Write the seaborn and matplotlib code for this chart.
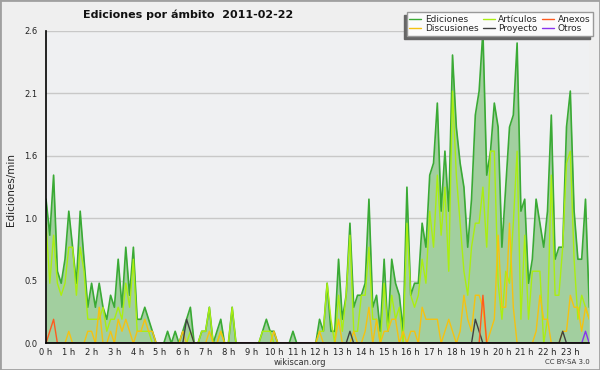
import matplotlib
matplotlib.use("Agg")
import matplotlib.pyplot as plt
from matplotlib.lines import Line2D
from matplotlib.patches import Rectangle
from matplotlib.ticker import FixedLocator, MultipleLocator
import numpy as np
import pandas as pd
import seaborn as sns

# --------------------------------------------------------------------------- #
# Data: edits per minute, one value per 10-minute slot (144 slots = 24 h)
# --------------------------------------------------------------------------- #

TITLE = "Ediciones por ámbito  2011-02-22"

ediciones = [
    1.2, 0.9, 1.4, 0.6, 0.5, 0.7, 1.1, 0.8, 0.5, 1.1, 0.7, 0.3,
    0.5, 0.3, 0.5, 0.3, 0.2, 0.4, 0.3, 0.7, 0.3, 0.8, 0.4, 0.8,
    0.2, 0.2, 0.3, 0.2, 0.1, 0.0, 0.0, 0.0, 0.1, 0.0, 0.1, 0.0,
    0.1, 0.2, 0.3, 0.0, 0.0, 0.1, 0.1, 0.3, 0.0, 0.1, 0.2, 0.0,
    0.0, 0.3, 0.0, 0.0, 0.0, 0.0, 0.0, 0.0, 0.0, 0.1, 0.2, 0.1,
    0.1, 0.0, 0.0, 0.0, 0.0, 0.1, 0.0, 0.0, 0.0, 0.0, 0.0, 0.0,
    0.2, 0.1, 0.5, 0.1, 0.1, 0.7, 0.2, 0.4, 1.0, 0.3, 0.4, 0.4,
    0.5, 1.2, 0.3, 0.4, 0.1, 0.7, 0.1, 0.7, 0.5, 0.4, 0.1, 1.3,
    0.4, 0.5, 0.5, 1.0, 0.8, 1.4, 1.5, 2.0, 1.1, 1.6, 1.1, 2.4,
    1.8, 1.5, 1.3, 0.8, 1.2, 1.9, 2.1, 2.6, 1.4, 1.6, 2.0, 1.8,
    0.8, 1.3, 1.8, 1.9, 2.5, 1.1, 1.2, 0.5, 0.7, 1.2, 1.0, 0.8,
    1.1, 1.9, 0.7, 0.8, 0.8, 1.8, 2.1, 1.1, 0.7, 0.7, 1.2, 0.3,
]

articulos = [
    1.0, 0.5, 0.9, 0.5, 0.4, 0.5, 0.8, 0.8, 0.4, 0.8, 0.6, 0.2,
    0.2, 0.2, 0.2, 0.3, 0.1, 0.2, 0.2, 0.3, 0.2, 0.5, 0.3, 0.7,
    0.1, 0.1, 0.1, 0.1, 0.0, 0.0, 0.0, 0.0, 0.0, 0.0, 0.0, 0.0,
    0.0, 0.0, 0.1, 0.0, 0.0, 0.1, 0.1, 0.3, 0.0, 0.0, 0.1, 0.0,
    0.0, 0.3, 0.0, 0.0, 0.0, 0.0, 0.0, 0.0, 0.0, 0.1, 0.1, 0.1,
    0.0, 0.0, 0.0, 0.0, 0.0, 0.0, 0.0, 0.0, 0.0, 0.0, 0.0, 0.0,
    0.1, 0.1, 0.5, 0.2, 0.0, 0.4, 0.1, 0.4, 0.9, 0.1, 0.1, 0.4,
    0.4, 0.8, 0.2, 0.2, 0.0, 0.5, 0.1, 0.4, 0.2, 0.3, 0.0, 1.0,
    0.4, 0.3, 0.4, 0.7, 0.5, 1.1, 0.8, 1.4, 0.9, 1.3, 0.6, 2.1,
    1.4, 1.0, 0.6, 0.4, 0.8, 1.0, 1.0, 1.3, 0.8, 1.6, 1.6, 0.5,
    0.2, 0.6, 0.5, 1.0, 1.6, 0.2, 0.9, 0.2, 0.6, 0.6, 0.6, 0.0,
    0.2, 1.4, 0.4, 0.4, 0.8, 1.5, 1.6, 0.7, 0.2, 0.4, 0.3, 0.2,
]

discusiones = [
    0.0, 0.0, 0.0, 0.0, 0.0, 0.0, 0.1, 0.0, 0.0, 0.0, 0.0, 0.1,
    0.1, 0.0, 0.3, 0.0, 0.0, 0.1, 0.0, 0.2, 0.1, 0.2, 0.1, 0.0,
    0.1, 0.1, 0.2, 0.1, 0.1, 0.0, 0.0, 0.0, 0.0, 0.0, 0.0, 0.0,
    0.1, 0.0, 0.0, 0.0, 0.0, 0.0, 0.0, 0.1, 0.0, 0.0, 0.1, 0.0,
    0.0, 0.0, 0.0, 0.0, 0.0, 0.0, 0.0, 0.0, 0.0, 0.0, 0.0, 0.0,
    0.1, 0.0, 0.0, 0.0, 0.0, 0.0, 0.0, 0.0, 0.0, 0.0, 0.0, 0.0,
    0.1, 0.0, 0.0, 0.0, 0.0, 0.2, 0.0, 0.0, 0.0, 0.1, 0.0, 0.0,
    0.1, 0.3, 0.0, 0.2, 0.0, 0.1, 0.1, 0.2, 0.2, 0.0, 0.1, 0.0,
    0.1, 0.1, 0.0, 0.3, 0.2, 0.2, 0.2, 0.2, 0.0, 0.1, 0.2, 0.1,
    0.0, 0.1, 0.4, 0.2, 0.1, 0.4, 0.4, 0.3, 0.0, 0.1, 0.2, 0.9,
    0.3, 0.3, 1.0, 0.3, 0.0, 0.0, 0.0, 0.0, 0.0, 0.1, 0.4, 0.2,
    0.2, 0.0, 0.0, 0.0, 0.1, 0.1, 0.4, 0.3, 0.3, 0.1, 0.3, 0.2,
]

anexos = [
    0.0, 0.1, 0.2, 0.0, 0.0, 0.0, 0.0, 0.0, 0.0, 0.0, 0.0, 0.0,
    0.0, 0.0, 0.0, 0.0, 0.0, 0.0, 0.0, 0.0, 0.0, 0.0, 0.0, 0.0,
    0.0, 0.0, 0.0, 0.0, 0.0, 0.0, 0.0, 0.0, 0.0, 0.0, 0.0, 0.0,
    0.0, 0.0, 0.0, 0.0, 0.0, 0.0, 0.0, 0.0, 0.0, 0.0, 0.0, 0.0,
    0.0, 0.0, 0.0, 0.0, 0.0, 0.0, 0.0, 0.0, 0.0, 0.0, 0.0, 0.0,
    0.0, 0.0, 0.0, 0.0, 0.0, 0.0, 0.0, 0.0, 0.0, 0.0, 0.0, 0.0,
    0.0, 0.0, 0.0, 0.0, 0.0, 0.0, 0.0, 0.0, 0.0, 0.0, 0.0, 0.0,
    0.0, 0.0, 0.0, 0.0, 0.0, 0.0, 0.0, 0.0, 0.0, 0.0, 0.0, 0.0,
    0.0, 0.0, 0.0, 0.0, 0.0, 0.0, 0.0, 0.0, 0.0, 0.0, 0.0, 0.0,
    0.0, 0.0, 0.0, 0.0, 0.0, 0.0, 0.0, 0.4, 0.0, 0.0, 0.0, 0.0,
    0.0, 0.0, 0.0, 0.0, 0.0, 0.0, 0.0, 0.0, 0.0, 0.0, 0.0, 0.0,
    0.0, 0.0, 0.0, 0.0, 0.0, 0.0, 0.0, 0.0, 0.0, 0.0, 0.0, 0.0,
]

proyecto = [
    0.0, 0.0, 0.0, 0.0, 0.0, 0.0, 0.0, 0.0, 0.0, 0.0, 0.0, 0.0,
    0.0, 0.0, 0.0, 0.0, 0.0, 0.0, 0.0, 0.0, 0.0, 0.0, 0.0, 0.0,
    0.0, 0.0, 0.0, 0.0, 0.0, 0.0, 0.0, 0.0, 0.0, 0.0, 0.0, 0.0,
    0.0, 0.2, 0.1, 0.0, 0.0, 0.0, 0.0, 0.0, 0.0, 0.0, 0.0, 0.0,
    0.0, 0.0, 0.0, 0.0, 0.0, 0.0, 0.0, 0.0, 0.0, 0.0, 0.0, 0.0,
    0.0, 0.0, 0.0, 0.0, 0.0, 0.0, 0.0, 0.0, 0.0, 0.0, 0.0, 0.0,
    0.0, 0.0, 0.0, 0.0, 0.0, 0.0, 0.0, 0.0, 0.1, 0.0, 0.0, 0.0,
    0.0, 0.0, 0.0, 0.0, 0.0, 0.0, 0.0, 0.0, 0.0, 0.0, 0.0, 0.0,
    0.0, 0.0, 0.0, 0.0, 0.0, 0.0, 0.0, 0.0, 0.0, 0.0, 0.0, 0.0,
    0.0, 0.0, 0.0, 0.0, 0.0, 0.2, 0.1, 0.0, 0.0, 0.0, 0.0, 0.0,
    0.0, 0.0, 0.0, 0.0, 0.0, 0.0, 0.0, 0.0, 0.0, 0.0, 0.0, 0.0,
    0.0, 0.0, 0.0, 0.0, 0.1, 0.0, 0.0, 0.0, 0.0, 0.0, 0.0, 0.0,
]

otros = [
    0.0, 0.0, 0.0, 0.0, 0.0, 0.0, 0.0, 0.0, 0.0, 0.0, 0.0, 0.0,
    0.0, 0.0, 0.0, 0.0, 0.0, 0.0, 0.0, 0.0, 0.0, 0.0, 0.0, 0.0,
    0.0, 0.0, 0.0, 0.0, 0.0, 0.0, 0.0, 0.0, 0.0, 0.0, 0.0, 0.0,
    0.0, 0.0, 0.0, 0.0, 0.0, 0.0, 0.0, 0.0, 0.0, 0.0, 0.0, 0.0,
    0.0, 0.0, 0.0, 0.0, 0.0, 0.0, 0.0, 0.0, 0.0, 0.0, 0.0, 0.0,
    0.0, 0.0, 0.0, 0.0, 0.0, 0.0, 0.0, 0.0, 0.0, 0.0, 0.0, 0.0,
    0.0, 0.0, 0.0, 0.0, 0.0, 0.0, 0.0, 0.0, 0.0, 0.0, 0.0, 0.0,
    0.0, 0.0, 0.0, 0.0, 0.0, 0.0, 0.0, 0.0, 0.0, 0.0, 0.0, 0.0,
    0.0, 0.0, 0.0, 0.0, 0.0, 0.0, 0.0, 0.0, 0.0, 0.0, 0.0, 0.0,
    0.0, 0.0, 0.0, 0.0, 0.0, 0.0, 0.0, 0.0, 0.0, 0.0, 0.0, 0.0,
    0.0, 0.0, 0.0, 0.0, 0.0, 0.0, 0.0, 0.0, 0.0, 0.0, 0.0, 0.0,
    0.0, 0.0, 0.0, 0.0, 0.0, 0.0, 0.0, 0.0, 0.0, 0.0, 0.1, 0.0,
]

hour_labels = [f"{h} h" for h in range(24)]
y_max = 2.6

# draw order (back to front) and colours
series = {
    "Ediciones": ediciones,
    "Artículos": articulos,
    "Discusiones": discusiones,
    "Proyecto": proyecto,
    "Anexos": anexos,
    "Otros": otros,
}
colors = {
    "Ediciones": "#3aaa35",
    "Artículos": "#aaee11",
    "Discusiones": "#f5c211",
    "Proyecto": "#404040",
    "Anexos": "#ff5a1e",
    "Otros": "#8833ee",
}
legend_order = ["Ediciones", "Discusiones", "Artículos", "Proyecto", "Anexos", "Otros"]

hours = np.arange(len(ediciones)) / 6.0
df = pd.DataFrame({"hora": hours, **series}).melt(
    id_vars="hora", var_name="ambito", value_name="valor")

# --------------------------------------------------------------------------- #
# Plot
# --------------------------------------------------------------------------- #

sns.set_theme(style="white")
plt.rcParams["font.family"] = ["DejaVu Sans"]

fig = plt.figure(figsize=(6, 3.7), dpi=100, facecolor="#efefef")
ax = fig.add_axes([46 / 600, 1 - 343.3 / 370, (589.3 - 46) / 600, (343.3 - 31) / 370])
ax.set_facecolor("#eff0f2")

ax.fill_between(hours, ediciones, color="#a2cf9f", lw=0, zorder=1)
for name in series:
    sns.lineplot(data=df[df["ambito"] == name], x="hora", y="valor",
                 color=colors[name], lw=1.2 if name == "Ediciones" else 1.0,
                 ax=ax, zorder=2)

ax.set_xlim(0, hours[-1])
ax.set_ylim(0, y_max)
ax.set_xlabel("")
ax.set_ylabel("")

yt = np.linspace(0, y_max, 6)
ax.yaxis.set_major_locator(FixedLocator(yt))
ax.set_yticklabels([f"{v:.1f}" for v in yt])
ax.yaxis.set_minor_locator(FixedLocator(np.linspace(0, y_max, 11)))
ax.set_xticks(np.arange(24))
ax.set_xticklabels(hour_labels)
ax.xaxis.set_minor_locator(MultipleLocator(1 / 6))

ax.grid(axis="y", color="#c8c8c8", lw=1, zorder=0)
ax.set_axisbelow(True)
for s in ["top", "right"]:
    ax.spines[s].set_visible(False)
for s in ["left", "bottom"]:
    ax.spines[s].set_color("black")
    ax.spines[s].set_linewidth(1.2)
    ax.spines[s].set_zorder(3)

ax.tick_params(axis="both", which="both", direction="out", colors="black",
               labelcolor="#222222", width=0.8)
ax.tick_params(axis="y", which="major", length=5, labelsize=6, pad=1)
ax.tick_params(axis="y", which="minor", length=3)
ax.tick_params(axis="x", which="major", length=3, labelsize=6, pad=0.5)
ax.tick_params(axis="x", which="minor", length=3)

fig.text(188 / 600, 1 - 15 / 370, TITLE, ha="center", va="center",
         fontsize=8, fontweight="bold", color="#111111")
fig.text(11 / 600, 1 - 190 / 370, "Ediciones/min", rotation=90,
         ha="center", va="center", fontsize=7.5, color="#222222")
fig.text(300 / 600, 1 - 362.5 / 370, "wikiscan.org", ha="center", va="center",
         fontsize=6, color="#333333")
fig.text(590 / 600, 1 - 362.5 / 370, "CC BY-SA 3.0", ha="right", va="center",
         fontsize=5, color="#333333")

handles = [Line2D([], [], color=colors[n], lw=1) for n in legend_order]
leg = ax.legend(handles, legend_order, ncol=3, loc="upper right",
                bbox_to_anchor=(593 / 600, 1 - 12 / 370), bbox_transform=fig.transFigure,
                fontsize=6.5, frameon=True, fancybox=False, framealpha=1,
                facecolor="#fbfbfb", edgecolor="#999999", borderpad=0.3,
                labelspacing=0.05, handlelength=1.3, handletextpad=0.4,
                columnspacing=0.5, borderaxespad=0)
leg.set_zorder(6)

# offset shadow behind the legend (down-left)
fig.canvas.draw()
bb = leg.get_window_extent().transformed(fig.transFigure.inverted())
dx, dy = 3 / 600, 3 / 370
ax.add_patch(Rectangle((bb.x0 - dx, bb.y0 - dy), bb.width, bb.height,
                       transform=fig.transFigure, color="#666666",
                       clip_on=False, zorder=5.5))

# outer frame of the image
fig.patches.append(Rectangle((0, 0), 1, 1, transform=fig.transFigure,
                             fill=False, edgecolor="#a0a0a0", lw=2))

fig.savefig("out.png", dpi=100, facecolor=fig.get_facecolor())
